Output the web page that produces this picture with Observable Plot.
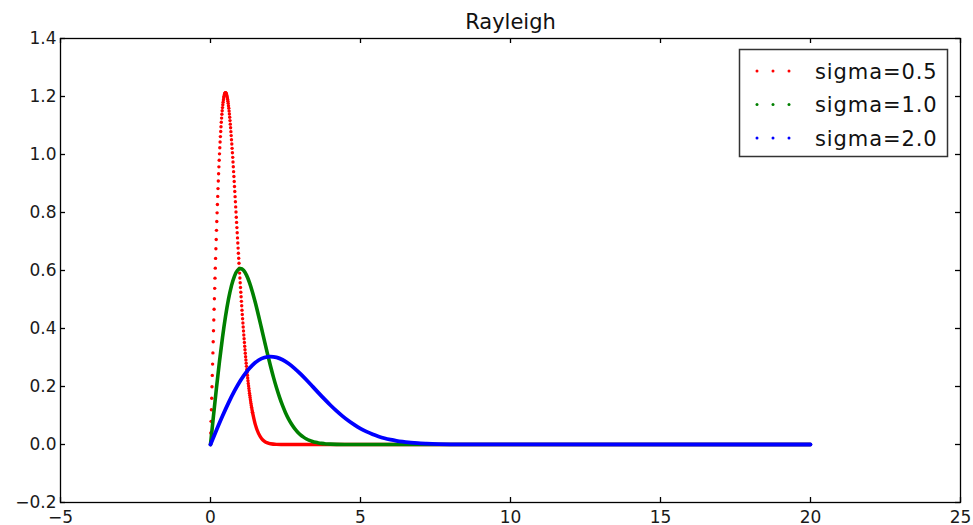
<!DOCTYPE html>
<html>
<head>
<meta charset="utf-8">
<script src="https://cdn.jsdelivr.net/npm/d3@7"></script>
<script src="https://cdn.jsdelivr.net/npm/@observablehq/plot@0.6"></script>
<style>
  html, body { margin: 0; padding: 0; background: #fff; }
  #chart { width: 973px; height: 525px; }
</style>
</head>
<body>
<div id="chart"></div>
<script>
// ---- Data ----
const chartTitle = "Rayleigh";
const seriesLabels = ["sigma=0.5", "sigma=1.0", "sigma=2.0"];
const xTicks = [-5, 0, 5, 10, 15, 20, 25];
const yTicks = [-0.2, 0.0, 0.2, 0.4, 0.6, 0.8, 1.0, 1.2, 1.4];

// sigma=0.5: dotted samples, spacing 0.01 in x, from x = 0.00 to 1.40
const redSampleStep = 0.01;
const redSampleY = [
  0.0000, 0.0400, 0.0799, 0.1198, 0.1595, 0.1990, 0.2383, 0.2773, 0.3159, 0.3542,
  0.3921, 0.4295, 0.4664, 0.5027, 0.5385, 0.5736, 0.6081, 0.6418, 0.6748, 0.7071,
  0.7385, 0.7691, 0.7988, 0.8276, 0.8555, 0.8825, 0.9085, 0.9335, 0.9575, 0.9804,
  1.0023, 1.0232, 1.0430, 1.0617, 1.0793, 1.0958, 1.1112, 1.1255, 1.1387, 1.1508,
  1.1618, 1.1717, 1.1806, 1.1883, 1.1950, 1.2006, 1.2051, 1.2086, 1.2111, 1.2126,
  1.2131, 1.2126, 1.2111, 1.2088, 1.2055, 1.2014, 1.1963, 1.1905, 1.1838, 1.1764,
  1.1682, 1.1593, 1.1497, 1.1394, 1.1284, 1.1169, 1.1047, 1.0920, 1.0788, 1.0651,
  1.0509, 1.0363, 1.0212, 1.0058, 0.9901, 0.9740, 0.9576, 0.9409, 0.9241, 0.9070,
  0.8897, 0.8723, 0.8547, 0.8371, 0.8193, 0.8016, 0.7837, 0.7658, 0.7480, 0.7302,
  0.7124, 0.6948, 0.6772, 0.6597, 0.6423, 0.6250, 0.6079, 0.5910, 0.5743, 0.5577,
  0.5413, 0.5252, 0.5093, 0.4936, 0.4782, 0.4630, 0.4481, 0.4335, 0.4191, 0.4050,
  0.3912, 0.3778, 0.3645, 0.3516, 0.3389, 0.3266, 0.3146, 0.3028, 0.2914, 0.2803,
  0.2694, 0.2589, 0.2486, 0.2387, 0.2291, 0.2197, 0.2106, 0.2018, 0.1933, 0.1850,
  0.1771, 0.1694, 0.1619, 0.1547, 0.1478, 0.1411, 0.1346, 0.1284, 0.1224, 0.1167,
  0.1111
];
// sigma=0.5: dense tail (appears as a solid band)
const redTailX = [1.4, 1.5, 1.6, 1.7, 1.8, 1.9, 2.0, 2.2, 2.5, 20];
const redTailY = [0.1111, 0.0667, 0.0382, 0.0210, 0.0110, 0.0056, 0.0027, 0.0006, 0.0000, 0.0000];

// sigma=1.0
const greenX = [0, 0.1, 0.2, 0.3, 0.4, 0.5, 0.6, 0.7, 0.8, 0.9, 1.0, 1.1, 1.2, 1.3, 1.4, 1.5, 1.6, 1.7, 1.8, 1.9,
  2.0, 2.1, 2.2, 2.3, 2.4, 2.5, 2.6, 2.7, 2.8, 2.9, 3.0, 3.1, 3.2, 3.3, 3.4, 3.5, 3.6, 3.7, 3.8, 3.9, 4.0, 4.2, 4.5, 5.0, 20];
const greenY = [0.0000, 0.0995, 0.1960, 0.2868, 0.3692, 0.4412, 0.5012, 0.5479, 0.5809, 0.6003, 0.6065, 0.6007, 0.5841, 0.5584, 0.5254, 0.4870, 0.4449, 0.4008, 0.3562, 0.3125,
  0.2707, 0.2315, 0.1956, 0.1633, 0.1347, 0.1098, 0.0885, 0.0706, 0.0556, 0.0433, 0.0333, 0.0254, 0.0191, 0.0142, 0.0105, 0.0077, 0.0055, 0.0039, 0.0028, 0.0019, 0.0013, 0.0006, 0.0002, 0.0000, 0.0000];

// sigma=2.0
const blueX = [0, 0.2, 0.4, 0.6, 0.8, 1.0, 1.2, 1.4, 1.6, 1.8, 2.0, 2.2, 2.4, 2.6, 2.8, 3.0, 3.2, 3.4, 3.6, 3.8,
  4.0, 4.2, 4.4, 4.6, 4.8, 5.0, 5.2, 5.4, 5.6, 5.8, 6.0, 6.2, 6.4, 6.6, 6.8, 7.0, 7.2, 7.6, 8.0, 9.0, 20];
const blueY = [0.0000, 0.0498, 0.0980, 0.1434, 0.1846, 0.2206, 0.2506, 0.2739, 0.2905, 0.3001, 0.3033, 0.3003, 0.2921, 0.2792, 0.2627, 0.2435, 0.2224, 0.2004, 0.1781, 0.1563,
  0.1353, 0.1158, 0.0978, 0.0817, 0.0674, 0.0549, 0.0443, 0.0353, 0.0278, 0.0216, 0.0167, 0.0127, 0.0096, 0.0071, 0.0053, 0.0038, 0.0028, 0.0014, 0.0007, 0.0001, 0.0000];

// ---- Styles ----
const colors = ["#ff0000", "#008000", "#0000ff"];
const FONT = "'DejaVu Sans', 'Bitstream Vera Sans', sans-serif";

// ---- Build tables ----
const redSamples = redSampleY.map((y, i) => ({x: +(i * redSampleStep).toFixed(2), y}));
const redTail = redTailX.map((x, i) => ({x, y: redTailY[i]}));
const green = greenX.map((x, i) => ({x, y: greenY[i]}));
const blue = blueX.map((x, i) => ({x, y: blueY[i]}));

const W = 973, H = 525;
const mL = 60, mR = 13, mT = 38, mB = 23;
const pw = W - mL - mR, ph = H - mT - mB;
const tick = 5;

const minus = s => s.replace("-", "\u2212");
const fmtX = d => minus(String(d));
const fmtY = d => minus(d.toFixed(1));

const plot = Plot.plot({
  width: W, height: H,
  marginLeft: mL, marginRight: mR, marginTop: mT, marginBottom: mB,
  style: {fontFamily: FONT, fontSize: "17px", color: "#000", background: "#fff", overflow: "visible"},
  x: {domain: [-5, 25], label: null},
  y: {domain: [-0.2, 1.4], label: null},
  marks: [
    Plot.dot(redSamples, {x: "x", y: "y", r: 1.7, fill: colors[0]}),
    Plot.line(redTail, {x: "x", y: "y", stroke: colors[0], strokeWidth: 3.4, curve: "monotone-x", strokeLinecap: "round"}),
    Plot.line(green, {x: "x", y: "y", stroke: colors[1], strokeWidth: 3.6, curve: "monotone-x", strokeLinecap: "round"}),
    Plot.line(blue, {x: "x", y: "y", stroke: colors[2], strokeWidth: 3.8, curve: "monotone-x", strokeLinecap: "round"}),
    Plot.frame({stroke: "#000", strokeWidth: 1.3}),
    Plot.tickX(xTicks, {x: d => d, insetTop: ph - tick, stroke: "#000", strokeWidth: 1.3}),
    Plot.tickX(xTicks, {x: d => d, insetBottom: ph - tick, stroke: "#000", strokeWidth: 1.3}),
    Plot.tickY(yTicks, {y: d => d, insetRight: pw - tick, stroke: "#000", strokeWidth: 1.3}),
    Plot.tickY(yTicks, {y: d => d, insetLeft: pw - tick, stroke: "#000", strokeWidth: 1.3}),
    Plot.axisX(xTicks, {tickSize: 0, tickPadding: 8, tickFormat: fmtX, fontSize: 17, fill: "#1a1a1a", label: null}),
    Plot.axisY(yTicks, {tickSize: 0, tickPadding: 4, tickFormat: fmtY, fontSize: 17, fill: "#1a1a1a", label: null}),
    Plot.text([chartTitle], {frameAnchor: "top", lineAnchor: "middle", dy: -16, fontSize: 21, fill: "#111"})
  ]
});

// ---- Legend (upper right) ----
const svg = d3.select(plot);
const lg = svg.append("g").attr("font-family", FONT).attr("text-anchor", "start");
lg.append("rect")
  .attr("x", 739.5).attr("y", 49.5).attr("width", 208).attr("height", 107)
  .attr("fill", "#fff").attr("stroke", "#333").attr("stroke-width", 1.5);
const rowY = [71, 104.5, 138];
seriesLabels.forEach((label, i) => {
  [757, 773, 789].forEach(cx => {
    lg.append("circle").attr("cx", cx).attr("cy", rowY[i]).attr("r", 1.5).attr("fill", colors[i]);
  });
  lg.append("text")
    .attr("x", 815).attr("y", rowY[i]).attr("dy", "0.36em")
    .attr("text-anchor", "start")
    .attr("font-size", 21).attr("letter-spacing", "0.9px").attr("fill", "#111")
    .text(label);
});

document.getElementById("chart").appendChild(plot);
</script>
</body>
</html>
